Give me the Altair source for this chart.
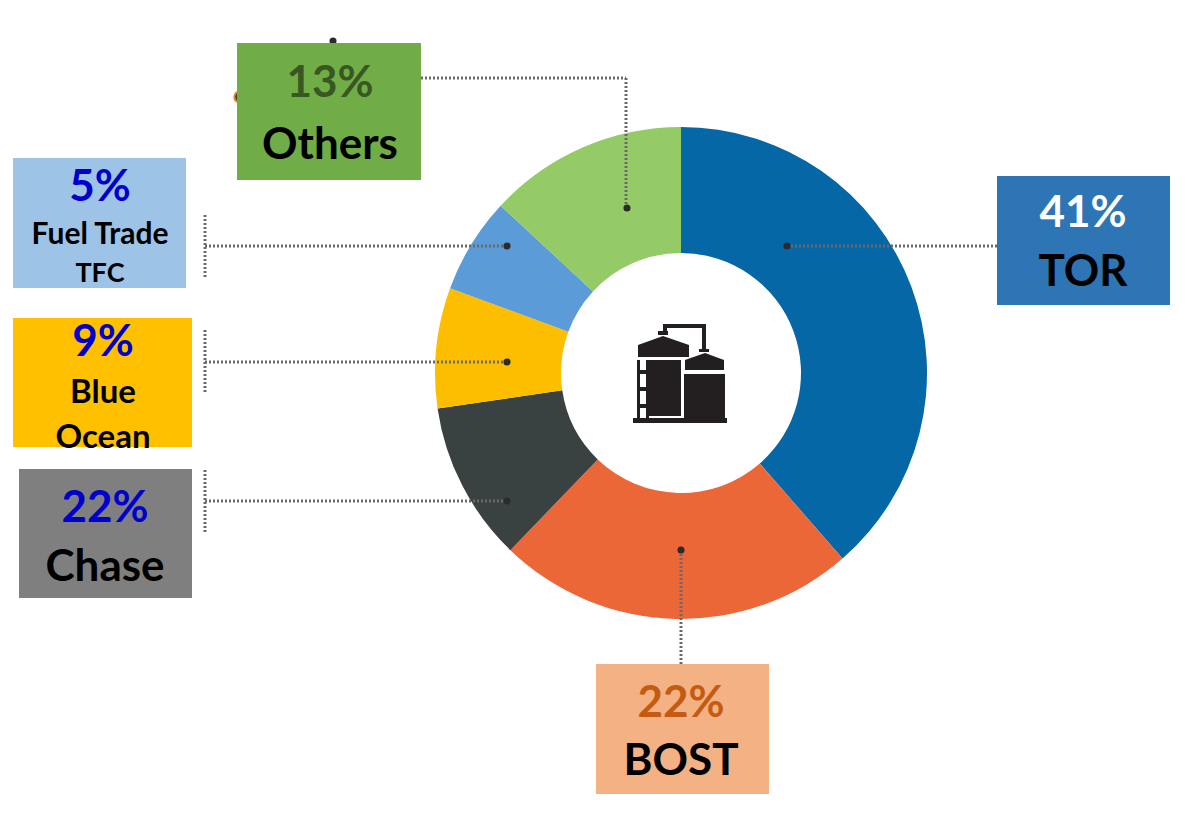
import altair as alt
import pandas as pd

# Chart values
categories = ["TOR", "BOST", "Chase", "Blue Ocean", "Fuel Trade TFC", "Others"]
slice_values = [38.6, 23.6, 10.5, 7.9, 6.3, 13.1]
slice_colors = ["#0567A6", "#EC6738", "#3A4241", "#FDBE00", "#5B9BD8", "#94CB66"]

# Annotation boxes
box_x1 = [997, 596, 19, 13, 13, 237]
box_x2 = [1170, 769, 192, 192, 186, 421]
box_y1 = [176, 664, 469, 318, 158, 43]
box_y2 = [305, 794, 598, 447, 288, 180]
box_colors = ["#2E75B6", "#F4B183", "#7F7F7F", "#FFC000", "#9DC3E6", "#70AD47"]

# Annotation texts
text_labels = ["41%", "TOR", "22%", "BOST", "22%", "Chase", "9%", "Blue", "Ocean", "5%", "Fuel Trade", "TFC", "13%", "Others"]
text_x = [1083, 1083, 681, 681, 105, 105, 103, 103, 103, 100, 100, 100, 330, 330]
text_y = [214, 273, 704, 762, 509, 568, 343, 393, 438, 188, 235, 274, 84, 146]
text_size = [44, 44, 44, 44, 44, 44, 44, 33, 33, 44, 30, 27, 44, 44]
text_colors = ["#FFFFFF", "#000000", "#C55A11", "#000000", "#0000CC", "#000000", "#0000CC", "#000000", "#000000",
               "#0000CC", "#000000", "#000000", "#385723", "#000000"]

# Dotted leader lines
lead_x1 = [787, 205, 205, 205, 205, 205, 205, 681, 421, 626]
lead_x2 = [997, 507, 205, 507, 205, 507, 205, 681, 626, 626]
lead_y1 = [246, 246, 215, 362, 330, 501, 470, 550, 78, 78]
lead_y2 = [246, 246, 277, 362, 392, 501, 532, 664, 78, 208]
dot_x = [787, 507, 507, 507, 681, 627, 333]
dot_y = [246, 246, 362, 501, 550, 208, 41]

# Icon parts (refinery tanks)
icon_x1 = [633, 649, 684, 637, 646, 637, 637, 637, 663, 663, 702, 699, 658]
icon_x2 = [727, 681, 725, 640, 649, 648, 648, 648, 667, 706, 706, 709, 668]
icon_y1 = [418, 360, 374, 360, 360, 370, 387, 404, 324, 324, 324, 349, 331]
icon_y2 = [423, 416, 418, 418, 418, 374, 391, 408, 334, 328, 350, 352, 335]
roof_left_x = [638, 663, 689]
roof_left_top = [345, 336, 345]
roof_left_base = [357, 357, 357]
roof_right_x = [685, 705, 724]
roof_right_top = [360, 353, 360]
roof_right_base = [370, 370, 370]

X = alt.Scale(domain=[8, 1182], nice=False, zero=False)
Y = alt.Scale(domain=[811, 8], nice=False, zero=False)


def xq(f):
    return alt.X(f, type="quantitative", scale=X, axis=None)


def yq(f):
    return alt.Y(f, type="quantitative", scale=Y, axis=None)


slices = pd.DataFrame({"cat": categories, "value": slice_values, "color": slice_colors, "ord": range(6)})
boxes = pd.DataFrame({"x": box_x1, "x2": box_x2, "y": box_y1, "y2": box_y2, "color": box_colors})
texts = pd.DataFrame({"t": text_labels, "x": text_x, "y": text_y, "s": text_size, "color": text_colors, "i": range(len(text_labels))})
leads = pd.DataFrame({"x": lead_x1, "x2": lead_x2, "y": lead_y1, "y2": lead_y2})
dots = pd.DataFrame({"x": dot_x, "y": dot_y})
icon = pd.DataFrame({"x": icon_x1, "x2": icon_x2, "y": icon_y1, "y2": icon_y2})
roof_l = pd.DataFrame({"x": roof_left_x, "y": roof_left_top, "y2": roof_left_base})
roof_r = pd.DataFrame({"x": roof_right_x, "y": roof_right_top, "y2": roof_right_base})

arc = alt.Chart(slices).mark_arc(radius=246, radius2=120).encode(
    theta=alt.Theta("value:Q", stack=True),
    order=alt.Order("ord:Q"),
    color=alt.Color("color:N", scale=None),
    x=alt.X(datum=681, scale=X, axis=None),
    y=alt.Y(datum=373, scale=Y, axis=None),
)

lead_rules = alt.Chart(leads).mark_rule(strokeDash=[2, 2], strokeWidth=3, color="#6A6A6A").encode(
    x=xq("x"), x2="x2", y=yq("y"), y2="y2"
)
dot_marks = alt.Chart(dots).mark_circle(size=50, color="#2B2B2B", opacity=1).encode(x=xq("x"), y=yq("y"))
hidden = alt.Chart(pd.DataFrame({"x": [240], "y": [97]})).mark_circle(
    size=130, color="#3A3A3A", opacity=1, stroke="#E08A2E", strokeWidth=2
).encode(x=xq("x"), y=yq("y"))

box_marks = alt.Chart(boxes).mark_rect(opacity=1).encode(
    x=xq("x"), x2="x2", y=yq("y"), y2="y2", color=alt.Color("color:N", scale=None)
)
text_marks = alt.Chart(texts).mark_text(font="Lato", fontWeight="bold", baseline="middle", align="center").encode(
    x=xq("x"), y=yq("y"), text="t:N",
    size=alt.Size("s:Q", scale=None),
    color=alt.Color("color:N", scale=None),
    detail="i:N",
)

icon_rects = alt.Chart(icon).mark_rect(color="#231F20", opacity=1).encode(x=xq("x"), x2="x2", y=yq("y"), y2="y2")
roof1 = alt.Chart(roof_l).mark_area(color="#231F20", opacity=1).encode(x=xq("x"), y=yq("y"), y2="y2")
roof2 = alt.Chart(roof_r).mark_area(color="#231F20", opacity=1).encode(x=xq("x"), y=yq("y"), y2="y2")

chart = alt.layer(
    arc, lead_rules, dot_marks, hidden, box_marks, text_marks, icon_rects, roof1, roof2
).properties(
    width=1174, height=803, padding=0,
    autosize=alt.AutoSizeParams(type="none"),
).configure_view(stroke=None)

chart.save("out.html", embed_options={"renderer": "svg", "actions": False})
